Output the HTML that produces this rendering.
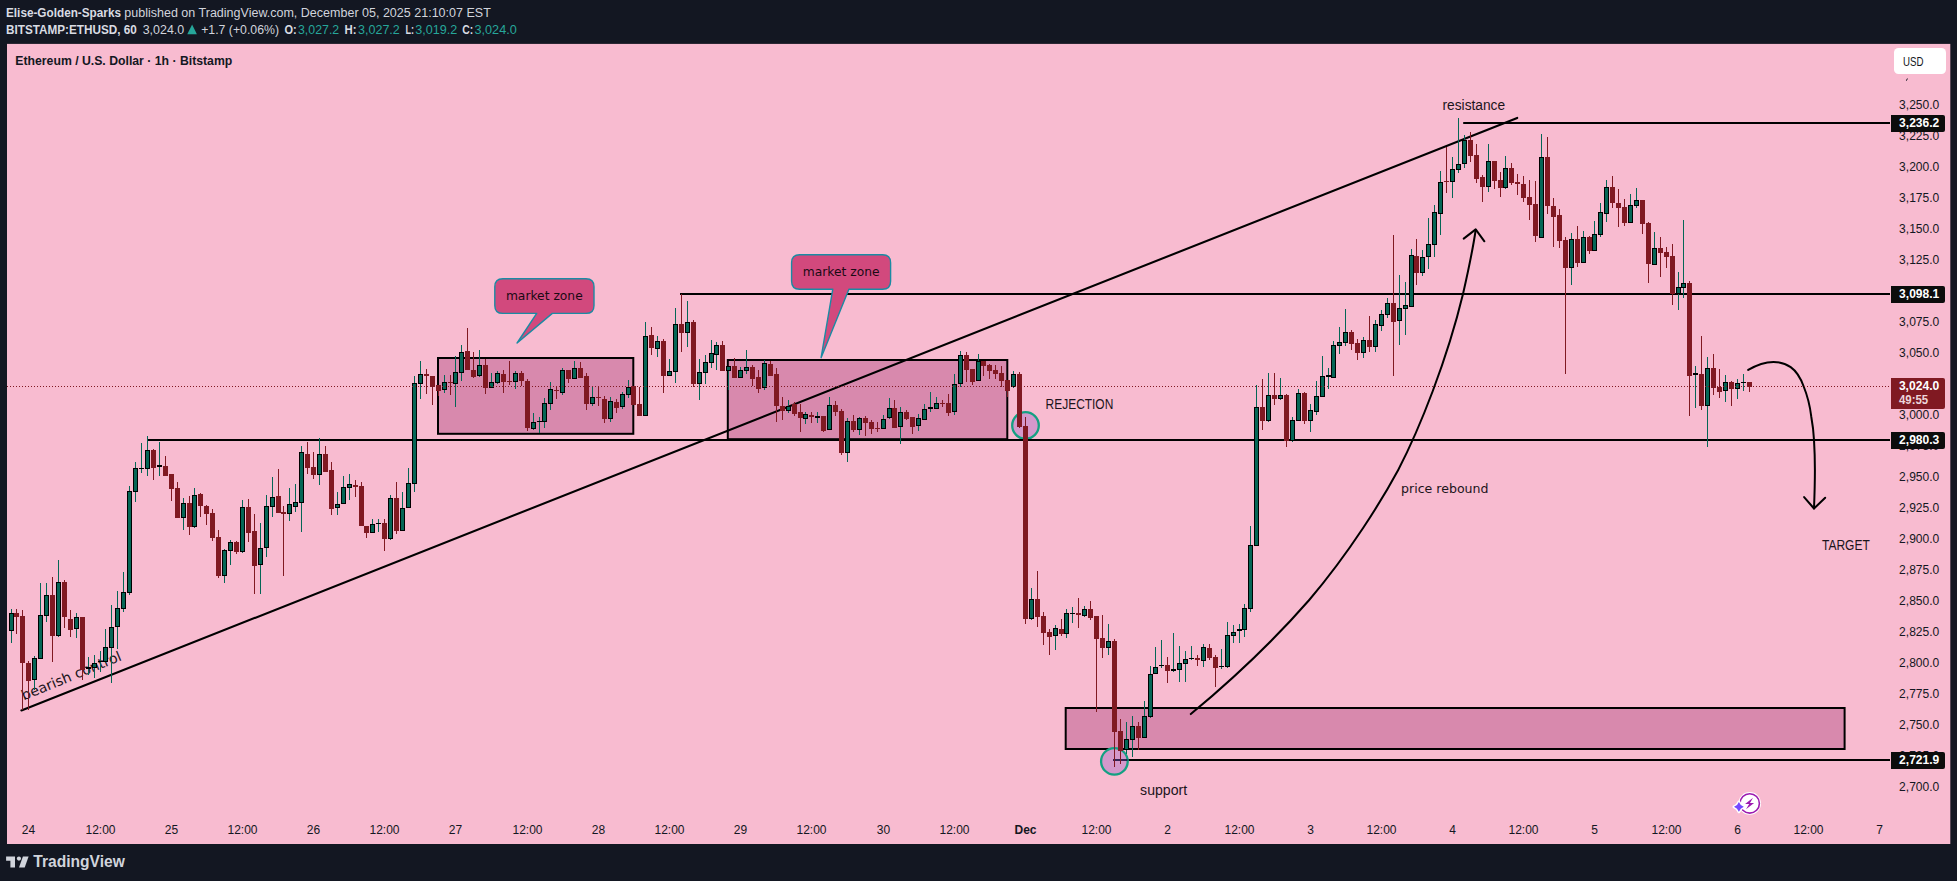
<!DOCTYPE html>
<html lang="en"><head><meta charset="utf-8"><title>ETHUSD chart</title>
<style>html,body{margin:0;padding:0;background:#131722;overflow:hidden}body{width:1957px;height:881px}text{white-space:pre}</style>
</head><body>
<svg width="1957" height="881" viewBox="0 0 1957 881" style="display:block"><rect x="0" y="0" width="1957" height="881" fill="#131722"/>
<rect x="7" y="43.9" width="1943.3" height="800.1" fill="#f8bbd0"/>
<text x="6" y="17.2" font-size="12.5" fill="#d9dce3" font-weight="bold" font-family="'Liberation Sans', sans-serif" text-anchor="start" textLength="115" lengthAdjust="spacingAndGlyphs">Elise-Golden-Sparks</text>
<text x="124.3" y="17.2" font-size="12.5" fill="#d1d4dc" font-weight="normal" font-family="'Liberation Sans', sans-serif" text-anchor="start" textLength="366.5" lengthAdjust="spacingAndGlyphs">published on TradingView.com, December 05, 2025 21:10:07 EST</text>
<text x="6" y="34.2" font-size="12.5" fill="#d9dce3" font-weight="bold" font-family="'Liberation Sans', sans-serif" text-anchor="start" textLength="130.8" lengthAdjust="spacingAndGlyphs">BITSTAMP:ETHUSD, 60</text>
<text x="142.7" y="34.2" font-size="12.5" fill="#d1d4dc" font-weight="normal" font-family="'Liberation Sans', sans-serif" text-anchor="start" textLength="41.5" lengthAdjust="spacingAndGlyphs">3,024.0</text>
<path d="M187.3 34.2 L192.1 24.6 L196.9 34.2 Z" fill="#26a69a"/>
<text x="201.2" y="34.2" font-size="12.5" fill="#d1d4dc" font-weight="normal" font-family="'Liberation Sans', sans-serif" text-anchor="start" textLength="77.8" lengthAdjust="spacingAndGlyphs">+1.7 (+0.06%)</text>
<text x="284.4" y="34.2" font-size="12.5" fill="#d9dce3" font-weight="bold" font-family="'Liberation Sans', sans-serif" text-anchor="start" textLength="12.2" lengthAdjust="spacingAndGlyphs">O:</text>
<text x="298" y="34.2" font-size="12.5" fill="#26a69a" font-weight="normal" font-family="'Liberation Sans', sans-serif" text-anchor="start" textLength="41.2" lengthAdjust="spacingAndGlyphs">3,027.2</text>
<text x="344.5" y="34.2" font-size="12.5" fill="#d9dce3" font-weight="bold" font-family="'Liberation Sans', sans-serif" text-anchor="start" textLength="12.0" lengthAdjust="spacingAndGlyphs">H:</text>
<text x="358" y="34.2" font-size="12.5" fill="#26a69a" font-weight="normal" font-family="'Liberation Sans', sans-serif" text-anchor="start" textLength="41.8" lengthAdjust="spacingAndGlyphs">3,027.2</text>
<text x="405.5" y="34.2" font-size="12.5" fill="#d9dce3" font-weight="bold" font-family="'Liberation Sans', sans-serif" text-anchor="start" textLength="8.6" lengthAdjust="spacingAndGlyphs">L:</text>
<text x="415.2" y="34.2" font-size="12.5" fill="#26a69a" font-weight="normal" font-family="'Liberation Sans', sans-serif" text-anchor="start" textLength="42" lengthAdjust="spacingAndGlyphs">3,019.2</text>
<text x="462.3" y="34.2" font-size="12.5" fill="#d9dce3" font-weight="bold" font-family="'Liberation Sans', sans-serif" text-anchor="start" textLength="11.0" lengthAdjust="spacingAndGlyphs">C:</text>
<text x="474.5" y="34.2" font-size="12.5" fill="#26a69a" font-weight="normal" font-family="'Liberation Sans', sans-serif" text-anchor="start" textLength="42.3" lengthAdjust="spacingAndGlyphs">3,024.0</text>
<text x="15.3" y="64.8" font-size="12" fill="#131722" font-weight="bold" font-family="'Liberation Sans', sans-serif" text-anchor="start" textLength="217" lengthAdjust="spacingAndGlyphs">Ethereum / U.S. Dollar · 1h · Bitstamp</text>
<rect x="438" y="358" width="195.29999999999995" height="75.80000000000001" fill="#d889ad" stroke="#000000" stroke-width="2"/>
<rect x="727.8" y="360" width="279.5" height="79.19999999999999" fill="#d889ad" stroke="#000000" stroke-width="2"/>
<rect x="1065.7" y="708" width="778.8999999999999" height="41" fill="#d889ad" stroke="#000000" stroke-width="2"/>
<circle cx="1025.5" cy="425.5" r="13.3" fill="#d498cb" stroke="#14a082" stroke-width="2.3"/>
<line x1="21.4" y1="710.4" x2="1517.2" y2="117.95" stroke="#000000" stroke-width="2.1" stroke-linecap="round"/>
<line x1="147" y1="440" x2="1890" y2="440" stroke="#000000" stroke-width="2" stroke-linecap="butt"/>
<line x1="680" y1="294" x2="1890" y2="294" stroke="#000000" stroke-width="2" stroke-linecap="butt"/>
<line x1="1463.2" y1="123" x2="1890" y2="123" stroke="#000000" stroke-width="2" stroke-linecap="butt"/>
<line x1="1113" y1="760" x2="1890" y2="760" stroke="#000000" stroke-width="2" stroke-linecap="butt"/>
<path d="M1190.8 714.1 C1250 665 1290 622 1309.2 600 C1350 552 1382 500 1398.2 470 C1420 428 1447 360 1463 294 C1468 272 1473 248 1475.7 230" fill="none" stroke="#000" stroke-width="2" stroke-linecap="round"/>
<path d="M1463.7 238.6 L1475.7 229.4 L1484.4 241.3" fill="none" stroke="#000" stroke-width="2" stroke-linecap="round" stroke-linejoin="round"/>
<path d="M1748.2 369.9 C1758 364 1766 361.9 1773.5 361.9 C1780 361.9 1786 363.8 1790.7 367.1 C1797 371.5 1801 379 1803.7 386.5 C1807.5 396 1810 406 1811.2 416.2 C1812.6 424 1813.6 432 1814 439.9 C1814.6 450 1814.9 460 1814.9 470.1 C1814.9 483 1814.5 496 1814 508.5" fill="none" stroke="#000" stroke-width="2" stroke-linecap="round"/>
<path d="M1804.1 497.1 L1814 508.5 L1825.2 497.7" fill="none" stroke="#000" stroke-width="2" stroke-linecap="round" stroke-linejoin="round"/>
<circle cx="1114.4" cy="761.4" r="13.3" fill="#d498cb" stroke="#14a082" stroke-width="2.3"/>
<line x1="1113" y1="760" x2="1127.5" y2="760" stroke="#1a1040" stroke-width="2" opacity="0.85"/>
<path d="M502.8 278.8 H586.0 Q594.0 278.8 594.0 286.8 V305.4 Q594.0 313.4 586.0 313.4 H552.3 L517.1 343.0 L536.7 313.4 H502.8 Q494.8 313.4 494.8 305.4 V286.8 Q494.8 278.8 502.8 278.8 Z" fill="#d2497d" stroke="#1a8ba3" stroke-width="1.4" stroke-linejoin="round"/>
<text x="505.9" y="299.8" font-size="12.2" fill="#1a0a14" font-weight="normal" font-family="'DejaVu Sans', 'Liberation Sans', sans-serif" text-anchor="start" textLength="76.8" lengthAdjust="spacingAndGlyphs">market zone</text>
<path d="M799.6 254.7 H882.6 Q890.6 254.7 890.6 262.7 V281.2 Q890.6 289.2 882.6 289.2 H848.9 L821.1 357.7 L832.8 289.2 H799.6 Q791.6 289.2 791.6 281.2 V262.7 Q791.6 254.7 799.6 254.7 Z" fill="#d2497d" stroke="#1a8ba3" stroke-width="1.4" stroke-linejoin="round"/>
<text x="802.7" y="275.7" font-size="12.2" fill="#1a0a14" font-weight="normal" font-family="'DejaVu Sans', 'Liberation Sans', sans-serif" text-anchor="start" textLength="76.8" lengthAdjust="spacingAndGlyphs">market zone</text>
<text x="1442.5" y="109.8" font-size="14" fill="#1c141b" font-weight="normal" font-family="'Liberation Sans', sans-serif" text-anchor="start" textLength="62.6" lengthAdjust="spacingAndGlyphs">resistance</text>
<text x="1045.6" y="409.2" font-size="14" fill="#1c141b" font-weight="normal" font-family="'Liberation Sans', sans-serif" text-anchor="start" textLength="67.7" lengthAdjust="spacingAndGlyphs">REJECTION</text>
<text x="1140.1" y="794.8" font-size="14" fill="#1c141b" font-weight="normal" font-family="'Liberation Sans', sans-serif" text-anchor="start" textLength="47" lengthAdjust="spacingAndGlyphs">support</text>
<text x="1822" y="549.9" font-size="14" fill="#1c141b" font-weight="normal" font-family="'Liberation Sans', sans-serif" text-anchor="start" textLength="47.8" lengthAdjust="spacingAndGlyphs">TARGET</text>
<text x="1401.1" y="493.0" font-size="12.6" fill="#1c141b" font-weight="normal" font-family="'DejaVu Sans', 'Liberation Sans', sans-serif" text-anchor="start" textLength="87.4" lengthAdjust="spacingAndGlyphs">price rebound</text>
<g transform="translate(23.8 700.5) rotate(-22.3)">
<text x="0" y="0" font-size="14" fill="#1c141b" font-weight="normal" font-family="'DejaVu Sans', 'Liberation Sans', sans-serif" text-anchor="start" textLength="106.6" lengthAdjust="spacingAndGlyphs">bearish control</text>
</g>
<rect x="11" y="609" width="1" height="34" fill="#056656"/>
<rect x="9" y="613" width="5" height="18" fill="#000"/>
<rect x="10" y="614" width="3" height="16" fill="#056656"/>
<rect x="16" y="609" width="1" height="25" fill="#801922"/>
<rect x="14" y="613" width="5" height="4" fill="#801922"/>
<rect x="22" y="610" width="1" height="100" fill="#801922"/>
<rect x="20" y="616" width="5" height="47" fill="#801922"/>
<rect x="28" y="661" width="1" height="49" fill="#801922"/>
<rect x="26" y="663" width="5" height="18" fill="#801922"/>
<rect x="34" y="656" width="1" height="34" fill="#056656"/>
<rect x="32" y="658" width="5" height="22" fill="#000"/>
<rect x="33" y="659" width="3" height="20" fill="#056656"/>
<rect x="40" y="583" width="1" height="76" fill="#056656"/>
<rect x="38" y="615" width="5" height="44" fill="#000"/>
<rect x="39" y="616" width="3" height="42" fill="#056656"/>
<rect x="46" y="583" width="1" height="39" fill="#056656"/>
<rect x="44" y="595" width="5" height="21" fill="#000"/>
<rect x="45" y="596" width="3" height="19" fill="#056656"/>
<rect x="52" y="577" width="1" height="85" fill="#801922"/>
<rect x="50" y="595" width="5" height="41" fill="#801922"/>
<rect x="58" y="560" width="1" height="77" fill="#056656"/>
<rect x="56" y="582" width="5" height="54" fill="#000"/>
<rect x="57" y="583" width="3" height="52" fill="#056656"/>
<rect x="64" y="580" width="1" height="48" fill="#801922"/>
<rect x="62" y="582" width="5" height="35" fill="#801922"/>
<rect x="70" y="610" width="1" height="27" fill="#801922"/>
<rect x="68" y="619" width="5" height="11" fill="#801922"/>
<rect x="76" y="613" width="1" height="25" fill="#056656"/>
<rect x="74" y="617" width="5" height="12" fill="#000"/>
<rect x="75" y="618" width="3" height="10" fill="#056656"/>
<rect x="82" y="617" width="1" height="63" fill="#801922"/>
<rect x="80" y="617" width="5" height="53" fill="#801922"/>
<rect x="88" y="657" width="1" height="18" fill="#056656"/>
<rect x="86" y="667" width="5" height="2" fill="#000"/>
<rect x="94" y="655" width="1" height="23" fill="#056656"/>
<rect x="92" y="663" width="5" height="5" fill="#000"/>
<rect x="93" y="664" width="3" height="3" fill="#056656"/>
<rect x="100" y="651" width="1" height="21" fill="#056656"/>
<rect x="98" y="661" width="5" height="1" fill="#000"/>
<rect x="105" y="629" width="1" height="34" fill="#056656"/>
<rect x="103" y="647" width="5" height="15" fill="#000"/>
<rect x="104" y="648" width="3" height="13" fill="#056656"/>
<rect x="111" y="605" width="1" height="78" fill="#056656"/>
<rect x="109" y="627" width="5" height="21" fill="#000"/>
<rect x="110" y="628" width="3" height="19" fill="#056656"/>
<rect x="117" y="591" width="1" height="58" fill="#056656"/>
<rect x="115" y="608" width="5" height="19" fill="#000"/>
<rect x="116" y="609" width="3" height="17" fill="#056656"/>
<rect x="123" y="572" width="1" height="40" fill="#056656"/>
<rect x="121" y="592" width="5" height="17" fill="#000"/>
<rect x="122" y="593" width="3" height="15" fill="#056656"/>
<rect x="129" y="486" width="1" height="109" fill="#056656"/>
<rect x="127" y="491" width="5" height="102" fill="#000"/>
<rect x="128" y="492" width="3" height="100" fill="#056656"/>
<rect x="135" y="462" width="1" height="40" fill="#056656"/>
<rect x="133" y="468" width="5" height="24" fill="#000"/>
<rect x="134" y="469" width="3" height="22" fill="#056656"/>
<rect x="141" y="443" width="1" height="30" fill="#056656"/>
<rect x="139" y="468" width="5" height="1" fill="#000"/>
<rect x="147" y="436" width="1" height="40" fill="#056656"/>
<rect x="145" y="450" width="5" height="19" fill="#000"/>
<rect x="146" y="451" width="3" height="17" fill="#056656"/>
<rect x="153" y="449" width="1" height="31" fill="#801922"/>
<rect x="151" y="450" width="5" height="18" fill="#801922"/>
<rect x="159" y="442" width="1" height="34" fill="#056656"/>
<rect x="157" y="465" width="5" height="2" fill="#000"/>
<rect x="165" y="456" width="1" height="20" fill="#801922"/>
<rect x="163" y="466" width="5" height="10" fill="#801922"/>
<rect x="171" y="474" width="1" height="27" fill="#801922"/>
<rect x="169" y="474" width="5" height="15" fill="#801922"/>
<rect x="177" y="482" width="1" height="36" fill="#801922"/>
<rect x="175" y="488" width="5" height="30" fill="#801922"/>
<rect x="183" y="498" width="1" height="32" fill="#056656"/>
<rect x="181" y="503" width="5" height="15" fill="#000"/>
<rect x="182" y="504" width="3" height="13" fill="#056656"/>
<rect x="189" y="496" width="1" height="39" fill="#801922"/>
<rect x="187" y="503" width="5" height="24" fill="#801922"/>
<rect x="194" y="488" width="1" height="40" fill="#056656"/>
<rect x="192" y="495" width="5" height="32" fill="#000"/>
<rect x="193" y="496" width="3" height="30" fill="#056656"/>
<rect x="200" y="493" width="1" height="24" fill="#801922"/>
<rect x="198" y="494" width="5" height="12" fill="#801922"/>
<rect x="206" y="505" width="1" height="20" fill="#801922"/>
<rect x="204" y="506" width="5" height="8" fill="#801922"/>
<rect x="212" y="509" width="1" height="32" fill="#801922"/>
<rect x="210" y="513" width="5" height="25" fill="#801922"/>
<rect x="218" y="530" width="1" height="48" fill="#801922"/>
<rect x="216" y="537" width="5" height="39" fill="#801922"/>
<rect x="224" y="549" width="1" height="34" fill="#056656"/>
<rect x="222" y="550" width="5" height="26" fill="#000"/>
<rect x="223" y="551" width="3" height="24" fill="#056656"/>
<rect x="230" y="540" width="1" height="25" fill="#056656"/>
<rect x="228" y="542" width="5" height="9" fill="#000"/>
<rect x="229" y="543" width="3" height="7" fill="#056656"/>
<rect x="236" y="541" width="1" height="13" fill="#801922"/>
<rect x="234" y="542" width="5" height="10" fill="#801922"/>
<rect x="242" y="500" width="1" height="53" fill="#056656"/>
<rect x="240" y="507" width="5" height="45" fill="#000"/>
<rect x="241" y="508" width="3" height="43" fill="#056656"/>
<rect x="248" y="499" width="1" height="43" fill="#801922"/>
<rect x="246" y="507" width="5" height="26" fill="#801922"/>
<rect x="254" y="514" width="1" height="80" fill="#801922"/>
<rect x="252" y="531" width="5" height="35" fill="#801922"/>
<rect x="260" y="523" width="1" height="71" fill="#056656"/>
<rect x="258" y="548" width="5" height="17" fill="#000"/>
<rect x="259" y="549" width="3" height="15" fill="#056656"/>
<rect x="266" y="495" width="1" height="62" fill="#056656"/>
<rect x="264" y="506" width="5" height="42" fill="#000"/>
<rect x="265" y="507" width="3" height="40" fill="#056656"/>
<rect x="272" y="477" width="1" height="40" fill="#056656"/>
<rect x="270" y="497" width="5" height="10" fill="#000"/>
<rect x="271" y="498" width="3" height="8" fill="#056656"/>
<rect x="278" y="469" width="1" height="44" fill="#801922"/>
<rect x="276" y="496" width="5" height="17" fill="#801922"/>
<rect x="283" y="506" width="1" height="70" fill="#801922"/>
<rect x="281" y="512" width="5" height="2" fill="#801922"/>
<rect x="289" y="488" width="1" height="33" fill="#056656"/>
<rect x="287" y="504" width="5" height="10" fill="#000"/>
<rect x="288" y="505" width="3" height="8" fill="#056656"/>
<rect x="295" y="484" width="1" height="28" fill="#056656"/>
<rect x="293" y="502" width="5" height="5" fill="#000"/>
<rect x="294" y="503" width="3" height="3" fill="#056656"/>
<rect x="301" y="446" width="1" height="86" fill="#056656"/>
<rect x="299" y="452" width="5" height="51" fill="#000"/>
<rect x="300" y="453" width="3" height="49" fill="#056656"/>
<rect x="307" y="442" width="1" height="32" fill="#801922"/>
<rect x="305" y="454" width="5" height="14" fill="#801922"/>
<rect x="313" y="452" width="1" height="27" fill="#801922"/>
<rect x="311" y="467" width="5" height="8" fill="#801922"/>
<rect x="319" y="438" width="1" height="47" fill="#056656"/>
<rect x="317" y="454" width="5" height="21" fill="#000"/>
<rect x="318" y="455" width="3" height="19" fill="#056656"/>
<rect x="325" y="446" width="1" height="26" fill="#801922"/>
<rect x="323" y="454" width="5" height="18" fill="#801922"/>
<rect x="331" y="462" width="1" height="53" fill="#801922"/>
<rect x="329" y="470" width="5" height="39" fill="#801922"/>
<rect x="337" y="492" width="1" height="23" fill="#056656"/>
<rect x="335" y="504" width="5" height="4" fill="#000"/>
<rect x="336" y="505" width="3" height="2" fill="#056656"/>
<rect x="343" y="476" width="1" height="28" fill="#056656"/>
<rect x="341" y="487" width="5" height="17" fill="#000"/>
<rect x="342" y="488" width="3" height="15" fill="#056656"/>
<rect x="349" y="474" width="1" height="26" fill="#056656"/>
<rect x="347" y="484" width="5" height="4" fill="#000"/>
<rect x="348" y="485" width="3" height="2" fill="#056656"/>
<rect x="355" y="480" width="1" height="17" fill="#801922"/>
<rect x="353" y="485" width="5" height="2" fill="#801922"/>
<rect x="361" y="482" width="1" height="44" fill="#801922"/>
<rect x="359" y="486" width="5" height="40" fill="#801922"/>
<rect x="366" y="526" width="1" height="12" fill="#801922"/>
<rect x="364" y="526" width="5" height="7" fill="#801922"/>
<rect x="372" y="519" width="1" height="14" fill="#056656"/>
<rect x="370" y="524" width="5" height="9" fill="#000"/>
<rect x="371" y="525" width="3" height="7" fill="#056656"/>
<rect x="378" y="519" width="1" height="13" fill="#056656"/>
<rect x="376" y="523" width="5" height="1" fill="#000"/>
<rect x="384" y="519" width="1" height="32" fill="#801922"/>
<rect x="382" y="523" width="5" height="16" fill="#801922"/>
<rect x="390" y="495" width="1" height="45" fill="#056656"/>
<rect x="388" y="498" width="5" height="41" fill="#000"/>
<rect x="389" y="499" width="3" height="39" fill="#056656"/>
<rect x="396" y="482" width="1" height="52" fill="#801922"/>
<rect x="394" y="498" width="5" height="33" fill="#801922"/>
<rect x="402" y="492" width="1" height="39" fill="#056656"/>
<rect x="400" y="508" width="5" height="23" fill="#000"/>
<rect x="401" y="509" width="3" height="21" fill="#056656"/>
<rect x="408" y="468" width="1" height="40" fill="#056656"/>
<rect x="406" y="483" width="5" height="25" fill="#000"/>
<rect x="407" y="484" width="3" height="23" fill="#056656"/>
<rect x="414" y="376" width="1" height="116" fill="#056656"/>
<rect x="412" y="383" width="5" height="101" fill="#000"/>
<rect x="413" y="384" width="3" height="99" fill="#056656"/>
<rect x="420" y="361" width="1" height="38" fill="#056656"/>
<rect x="418" y="374" width="5" height="10" fill="#000"/>
<rect x="419" y="375" width="3" height="8" fill="#056656"/>
<rect x="426" y="369" width="1" height="25" fill="#801922"/>
<rect x="424" y="374" width="5" height="2" fill="#801922"/>
<rect x="432" y="376" width="1" height="29" fill="#801922"/>
<rect x="430" y="376" width="5" height="11" fill="#801922"/>
<rect x="438" y="385" width="1" height="11" fill="#801922"/>
<rect x="436" y="385" width="5" height="6" fill="#801922"/>
<rect x="444" y="375" width="1" height="18" fill="#056656"/>
<rect x="442" y="382" width="5" height="8" fill="#000"/>
<rect x="443" y="383" width="3" height="6" fill="#056656"/>
<rect x="450" y="375" width="1" height="20" fill="#801922"/>
<rect x="448" y="382" width="5" height="1" fill="#801922"/>
<rect x="455" y="356" width="1" height="51" fill="#056656"/>
<rect x="453" y="372" width="5" height="12" fill="#000"/>
<rect x="454" y="373" width="3" height="10" fill="#056656"/>
<rect x="461" y="345" width="1" height="36" fill="#056656"/>
<rect x="459" y="352" width="5" height="21" fill="#000"/>
<rect x="460" y="353" width="3" height="19" fill="#056656"/>
<rect x="467" y="328" width="1" height="42" fill="#801922"/>
<rect x="465" y="351" width="5" height="19" fill="#801922"/>
<rect x="473" y="352" width="1" height="26" fill="#801922"/>
<rect x="471" y="370" width="5" height="7" fill="#801922"/>
<rect x="479" y="350" width="1" height="27" fill="#056656"/>
<rect x="477" y="365" width="5" height="11" fill="#000"/>
<rect x="478" y="366" width="3" height="9" fill="#056656"/>
<rect x="485" y="359" width="1" height="35" fill="#801922"/>
<rect x="483" y="365" width="5" height="23" fill="#801922"/>
<rect x="491" y="373" width="1" height="15" fill="#056656"/>
<rect x="489" y="382" width="5" height="6" fill="#000"/>
<rect x="490" y="383" width="3" height="4" fill="#056656"/>
<rect x="497" y="371" width="1" height="13" fill="#056656"/>
<rect x="495" y="373" width="5" height="10" fill="#000"/>
<rect x="496" y="374" width="3" height="8" fill="#056656"/>
<rect x="503" y="370" width="1" height="23" fill="#801922"/>
<rect x="501" y="374" width="5" height="8" fill="#801922"/>
<rect x="509" y="361" width="1" height="24" fill="#801922"/>
<rect x="507" y="381" width="5" height="1" fill="#801922"/>
<rect x="515" y="371" width="1" height="18" fill="#056656"/>
<rect x="513" y="373" width="5" height="9" fill="#000"/>
<rect x="514" y="374" width="3" height="7" fill="#056656"/>
<rect x="521" y="371" width="1" height="15" fill="#801922"/>
<rect x="519" y="373" width="5" height="8" fill="#801922"/>
<rect x="527" y="379" width="1" height="52" fill="#801922"/>
<rect x="525" y="381" width="5" height="47" fill="#801922"/>
<rect x="533" y="413" width="1" height="17" fill="#056656"/>
<rect x="531" y="422" width="5" height="7" fill="#000"/>
<rect x="532" y="423" width="3" height="5" fill="#056656"/>
<rect x="539" y="417" width="1" height="16" fill="#056656"/>
<rect x="537" y="421" width="5" height="1" fill="#000"/>
<rect x="544" y="398" width="1" height="30" fill="#056656"/>
<rect x="542" y="403" width="5" height="19" fill="#000"/>
<rect x="543" y="404" width="3" height="17" fill="#056656"/>
<rect x="550" y="382" width="1" height="28" fill="#056656"/>
<rect x="548" y="389" width="5" height="15" fill="#000"/>
<rect x="549" y="390" width="3" height="13" fill="#056656"/>
<rect x="556" y="387" width="1" height="12" fill="#801922"/>
<rect x="554" y="390" width="5" height="1" fill="#801922"/>
<rect x="562" y="368" width="1" height="27" fill="#056656"/>
<rect x="560" y="370" width="5" height="23" fill="#000"/>
<rect x="561" y="371" width="3" height="21" fill="#056656"/>
<rect x="568" y="370" width="1" height="13" fill="#801922"/>
<rect x="566" y="370" width="5" height="9" fill="#801922"/>
<rect x="574" y="361" width="1" height="18" fill="#056656"/>
<rect x="572" y="368" width="5" height="11" fill="#000"/>
<rect x="573" y="369" width="3" height="9" fill="#056656"/>
<rect x="580" y="362" width="1" height="16" fill="#801922"/>
<rect x="578" y="368" width="5" height="10" fill="#801922"/>
<rect x="586" y="373" width="1" height="37" fill="#801922"/>
<rect x="584" y="376" width="5" height="28" fill="#801922"/>
<rect x="592" y="387" width="1" height="19" fill="#056656"/>
<rect x="590" y="397" width="5" height="7" fill="#000"/>
<rect x="591" y="398" width="3" height="5" fill="#056656"/>
<rect x="598" y="387" width="1" height="19" fill="#801922"/>
<rect x="596" y="397" width="5" height="1" fill="#801922"/>
<rect x="604" y="396" width="1" height="27" fill="#801922"/>
<rect x="602" y="399" width="5" height="20" fill="#801922"/>
<rect x="610" y="397" width="1" height="25" fill="#056656"/>
<rect x="608" y="401" width="5" height="18" fill="#000"/>
<rect x="609" y="402" width="3" height="16" fill="#056656"/>
<rect x="616" y="399" width="1" height="14" fill="#801922"/>
<rect x="614" y="402" width="5" height="6" fill="#801922"/>
<rect x="622" y="392" width="1" height="17" fill="#056656"/>
<rect x="620" y="394" width="5" height="13" fill="#000"/>
<rect x="621" y="395" width="3" height="11" fill="#056656"/>
<rect x="628" y="380" width="1" height="18" fill="#056656"/>
<rect x="626" y="387" width="5" height="8" fill="#000"/>
<rect x="627" y="388" width="3" height="6" fill="#056656"/>
<rect x="633" y="386" width="1" height="19" fill="#801922"/>
<rect x="631" y="386" width="5" height="19" fill="#801922"/>
<rect x="639" y="387" width="1" height="28" fill="#801922"/>
<rect x="637" y="404" width="5" height="12" fill="#801922"/>
<rect x="645" y="322" width="1" height="93" fill="#056656"/>
<rect x="643" y="336" width="5" height="80" fill="#000"/>
<rect x="644" y="337" width="3" height="78" fill="#056656"/>
<rect x="651" y="327" width="1" height="28" fill="#801922"/>
<rect x="649" y="335" width="5" height="13" fill="#801922"/>
<rect x="657" y="336" width="1" height="21" fill="#056656"/>
<rect x="655" y="341" width="5" height="8" fill="#000"/>
<rect x="656" y="342" width="3" height="6" fill="#056656"/>
<rect x="663" y="339" width="1" height="54" fill="#801922"/>
<rect x="661" y="341" width="5" height="35" fill="#801922"/>
<rect x="669" y="359" width="1" height="17" fill="#056656"/>
<rect x="667" y="371" width="5" height="5" fill="#000"/>
<rect x="668" y="372" width="3" height="3" fill="#056656"/>
<rect x="675" y="308" width="1" height="75" fill="#056656"/>
<rect x="673" y="324" width="5" height="48" fill="#000"/>
<rect x="674" y="325" width="3" height="46" fill="#056656"/>
<rect x="681" y="294" width="1" height="58" fill="#801922"/>
<rect x="679" y="324" width="5" height="9" fill="#801922"/>
<rect x="687" y="301" width="1" height="46" fill="#056656"/>
<rect x="685" y="322" width="5" height="11" fill="#000"/>
<rect x="686" y="323" width="3" height="9" fill="#056656"/>
<rect x="693" y="320" width="1" height="67" fill="#801922"/>
<rect x="691" y="322" width="5" height="62" fill="#801922"/>
<rect x="699" y="359" width="1" height="41" fill="#056656"/>
<rect x="697" y="372" width="5" height="12" fill="#000"/>
<rect x="698" y="373" width="3" height="10" fill="#056656"/>
<rect x="705" y="355" width="1" height="29" fill="#056656"/>
<rect x="703" y="362" width="5" height="11" fill="#000"/>
<rect x="704" y="363" width="3" height="9" fill="#056656"/>
<rect x="711" y="340" width="1" height="28" fill="#056656"/>
<rect x="709" y="353" width="5" height="10" fill="#000"/>
<rect x="710" y="354" width="3" height="8" fill="#056656"/>
<rect x="716" y="342" width="1" height="28" fill="#056656"/>
<rect x="714" y="345" width="5" height="10" fill="#000"/>
<rect x="715" y="346" width="3" height="8" fill="#056656"/>
<rect x="722" y="341" width="1" height="30" fill="#801922"/>
<rect x="720" y="345" width="5" height="26" fill="#801922"/>
<rect x="728" y="366" width="1" height="24" fill="#056656"/>
<rect x="726" y="366" width="5" height="5" fill="#000"/>
<rect x="727" y="367" width="3" height="3" fill="#056656"/>
<rect x="734" y="358" width="1" height="19" fill="#801922"/>
<rect x="732" y="366" width="5" height="12" fill="#801922"/>
<rect x="740" y="367" width="1" height="11" fill="#056656"/>
<rect x="738" y="370" width="5" height="8" fill="#000"/>
<rect x="739" y="371" width="3" height="6" fill="#056656"/>
<rect x="746" y="350" width="1" height="24" fill="#056656"/>
<rect x="744" y="367" width="5" height="4" fill="#000"/>
<rect x="745" y="368" width="3" height="2" fill="#056656"/>
<rect x="752" y="365" width="1" height="21" fill="#801922"/>
<rect x="750" y="367" width="5" height="12" fill="#801922"/>
<rect x="758" y="370" width="1" height="23" fill="#801922"/>
<rect x="756" y="377" width="5" height="12" fill="#801922"/>
<rect x="764" y="360" width="1" height="30" fill="#056656"/>
<rect x="762" y="363" width="5" height="25" fill="#000"/>
<rect x="763" y="364" width="3" height="23" fill="#056656"/>
<rect x="770" y="361" width="1" height="15" fill="#801922"/>
<rect x="768" y="364" width="5" height="12" fill="#801922"/>
<rect x="776" y="368" width="1" height="54" fill="#801922"/>
<rect x="774" y="374" width="5" height="32" fill="#801922"/>
<rect x="782" y="397" width="1" height="23" fill="#801922"/>
<rect x="780" y="406" width="5" height="5" fill="#801922"/>
<rect x="788" y="400" width="1" height="13" fill="#056656"/>
<rect x="786" y="406" width="5" height="5" fill="#000"/>
<rect x="787" y="407" width="3" height="3" fill="#056656"/>
<rect x="794" y="402" width="1" height="14" fill="#801922"/>
<rect x="792" y="404" width="5" height="10" fill="#801922"/>
<rect x="800" y="404" width="1" height="28" fill="#801922"/>
<rect x="798" y="412" width="5" height="6" fill="#801922"/>
<rect x="805" y="412" width="1" height="12" fill="#056656"/>
<rect x="803" y="414" width="5" height="5" fill="#000"/>
<rect x="804" y="415" width="3" height="3" fill="#056656"/>
<rect x="811" y="412" width="1" height="11" fill="#801922"/>
<rect x="809" y="415" width="5" height="2" fill="#801922"/>
<rect x="817" y="412" width="1" height="11" fill="#056656"/>
<rect x="815" y="416" width="5" height="2" fill="#000"/>
<rect x="823" y="416" width="1" height="16" fill="#801922"/>
<rect x="821" y="416" width="5" height="15" fill="#801922"/>
<rect x="829" y="397" width="1" height="33" fill="#056656"/>
<rect x="827" y="405" width="5" height="25" fill="#000"/>
<rect x="828" y="406" width="3" height="23" fill="#056656"/>
<rect x="835" y="401" width="1" height="15" fill="#801922"/>
<rect x="833" y="405" width="5" height="7" fill="#801922"/>
<rect x="841" y="409" width="1" height="46" fill="#801922"/>
<rect x="839" y="411" width="5" height="42" fill="#801922"/>
<rect x="847" y="418" width="1" height="44" fill="#056656"/>
<rect x="845" y="421" width="5" height="32" fill="#000"/>
<rect x="846" y="422" width="3" height="30" fill="#056656"/>
<rect x="853" y="415" width="1" height="17" fill="#801922"/>
<rect x="851" y="421" width="5" height="9" fill="#801922"/>
<rect x="859" y="417" width="1" height="18" fill="#056656"/>
<rect x="857" y="418" width="5" height="12" fill="#000"/>
<rect x="858" y="419" width="3" height="10" fill="#056656"/>
<rect x="865" y="416" width="1" height="20" fill="#801922"/>
<rect x="863" y="418" width="5" height="5" fill="#801922"/>
<rect x="871" y="420" width="1" height="14" fill="#801922"/>
<rect x="869" y="422" width="5" height="7" fill="#801922"/>
<rect x="877" y="422" width="1" height="10" fill="#801922"/>
<rect x="875" y="428" width="5" height="1" fill="#801922"/>
<rect x="883" y="415" width="1" height="14" fill="#056656"/>
<rect x="881" y="419" width="5" height="10" fill="#000"/>
<rect x="882" y="420" width="3" height="8" fill="#056656"/>
<rect x="889" y="398" width="1" height="21" fill="#056656"/>
<rect x="887" y="408" width="5" height="10" fill="#000"/>
<rect x="888" y="409" width="3" height="8" fill="#056656"/>
<rect x="894" y="400" width="1" height="27" fill="#801922"/>
<rect x="892" y="408" width="5" height="20" fill="#801922"/>
<rect x="900" y="407" width="1" height="37" fill="#056656"/>
<rect x="898" y="412" width="5" height="15" fill="#000"/>
<rect x="899" y="413" width="3" height="13" fill="#056656"/>
<rect x="906" y="410" width="1" height="10" fill="#801922"/>
<rect x="904" y="412" width="5" height="7" fill="#801922"/>
<rect x="912" y="417" width="1" height="17" fill="#801922"/>
<rect x="910" y="417" width="5" height="10" fill="#801922"/>
<rect x="918" y="414" width="1" height="17" fill="#056656"/>
<rect x="916" y="418" width="5" height="8" fill="#000"/>
<rect x="917" y="419" width="3" height="6" fill="#056656"/>
<rect x="924" y="404" width="1" height="16" fill="#056656"/>
<rect x="922" y="409" width="5" height="11" fill="#000"/>
<rect x="923" y="410" width="3" height="9" fill="#056656"/>
<rect x="930" y="392" width="1" height="20" fill="#056656"/>
<rect x="928" y="407" width="5" height="2" fill="#000"/>
<rect x="936" y="397" width="1" height="12" fill="#056656"/>
<rect x="934" y="403" width="5" height="6" fill="#000"/>
<rect x="935" y="404" width="3" height="4" fill="#056656"/>
<rect x="942" y="400" width="1" height="7" fill="#801922"/>
<rect x="940" y="403" width="5" height="1" fill="#801922"/>
<rect x="948" y="394" width="1" height="22" fill="#801922"/>
<rect x="946" y="403" width="5" height="10" fill="#801922"/>
<rect x="954" y="374" width="1" height="41" fill="#056656"/>
<rect x="952" y="384" width="5" height="28" fill="#000"/>
<rect x="953" y="385" width="3" height="26" fill="#056656"/>
<rect x="960" y="351" width="1" height="36" fill="#056656"/>
<rect x="958" y="355" width="5" height="29" fill="#000"/>
<rect x="959" y="356" width="3" height="27" fill="#056656"/>
<rect x="966" y="352" width="1" height="30" fill="#801922"/>
<rect x="964" y="355" width="5" height="15" fill="#801922"/>
<rect x="972" y="369" width="1" height="16" fill="#801922"/>
<rect x="970" y="369" width="5" height="13" fill="#801922"/>
<rect x="978" y="354" width="1" height="27" fill="#056656"/>
<rect x="976" y="361" width="5" height="20" fill="#000"/>
<rect x="977" y="362" width="3" height="18" fill="#056656"/>
<rect x="983" y="361" width="1" height="15" fill="#801922"/>
<rect x="981" y="361" width="5" height="5" fill="#801922"/>
<rect x="989" y="364" width="1" height="15" fill="#801922"/>
<rect x="987" y="365" width="5" height="6" fill="#801922"/>
<rect x="995" y="365" width="1" height="14" fill="#801922"/>
<rect x="993" y="370" width="5" height="4" fill="#801922"/>
<rect x="1001" y="366" width="1" height="21" fill="#801922"/>
<rect x="999" y="373" width="5" height="8" fill="#801922"/>
<rect x="1007" y="380" width="1" height="17" fill="#801922"/>
<rect x="1005" y="380" width="5" height="11" fill="#801922"/>
<rect x="1013" y="371" width="1" height="17" fill="#056656"/>
<rect x="1011" y="374" width="5" height="13" fill="#000"/>
<rect x="1012" y="375" width="3" height="11" fill="#056656"/>
<rect x="1019" y="372" width="1" height="56" fill="#801922"/>
<rect x="1017" y="374" width="5" height="53" fill="#801922"/>
<rect x="1025" y="417" width="1" height="207" fill="#801922"/>
<rect x="1023" y="426" width="5" height="193" fill="#801922"/>
<rect x="1031" y="588" width="1" height="32" fill="#056656"/>
<rect x="1029" y="599" width="5" height="20" fill="#000"/>
<rect x="1030" y="600" width="3" height="18" fill="#056656"/>
<rect x="1037" y="571" width="1" height="56" fill="#801922"/>
<rect x="1035" y="599" width="5" height="18" fill="#801922"/>
<rect x="1043" y="612" width="1" height="33" fill="#801922"/>
<rect x="1041" y="616" width="5" height="17" fill="#801922"/>
<rect x="1049" y="629" width="1" height="26" fill="#801922"/>
<rect x="1047" y="632" width="5" height="5" fill="#801922"/>
<rect x="1055" y="625" width="1" height="25" fill="#056656"/>
<rect x="1053" y="628" width="5" height="8" fill="#000"/>
<rect x="1054" y="629" width="3" height="6" fill="#056656"/>
<rect x="1061" y="619" width="1" height="17" fill="#801922"/>
<rect x="1059" y="629" width="5" height="5" fill="#801922"/>
<rect x="1066" y="609" width="1" height="29" fill="#056656"/>
<rect x="1064" y="613" width="5" height="21" fill="#000"/>
<rect x="1065" y="614" width="3" height="19" fill="#056656"/>
<rect x="1072" y="607" width="1" height="16" fill="#056656"/>
<rect x="1070" y="613" width="5" height="1" fill="#000"/>
<rect x="1078" y="598" width="1" height="30" fill="#801922"/>
<rect x="1076" y="613" width="5" height="2" fill="#801922"/>
<rect x="1084" y="606" width="1" height="11" fill="#056656"/>
<rect x="1082" y="609" width="5" height="7" fill="#000"/>
<rect x="1083" y="610" width="3" height="5" fill="#056656"/>
<rect x="1090" y="601" width="1" height="19" fill="#801922"/>
<rect x="1088" y="609" width="5" height="9" fill="#801922"/>
<rect x="1096" y="616" width="1" height="96" fill="#801922"/>
<rect x="1094" y="616" width="5" height="23" fill="#801922"/>
<rect x="1102" y="615" width="1" height="43" fill="#801922"/>
<rect x="1100" y="638" width="5" height="10" fill="#801922"/>
<rect x="1108" y="624" width="1" height="31" fill="#056656"/>
<rect x="1106" y="641" width="5" height="7" fill="#000"/>
<rect x="1107" y="642" width="3" height="5" fill="#056656"/>
<rect x="1114" y="639" width="1" height="128" fill="#801922"/>
<rect x="1112" y="641" width="5" height="91" fill="#801922"/>
<rect x="1120" y="719" width="1" height="45" fill="#801922"/>
<rect x="1118" y="731" width="5" height="20" fill="#801922"/>
<rect x="1126" y="722" width="1" height="32" fill="#056656"/>
<rect x="1124" y="739" width="5" height="11" fill="#000"/>
<rect x="1125" y="740" width="3" height="9" fill="#056656"/>
<rect x="1132" y="716" width="1" height="41" fill="#056656"/>
<rect x="1130" y="726" width="5" height="14" fill="#000"/>
<rect x="1131" y="727" width="3" height="12" fill="#056656"/>
<rect x="1138" y="722" width="1" height="28" fill="#801922"/>
<rect x="1136" y="726" width="5" height="12" fill="#801922"/>
<rect x="1144" y="701" width="1" height="37" fill="#056656"/>
<rect x="1142" y="716" width="5" height="22" fill="#000"/>
<rect x="1143" y="717" width="3" height="20" fill="#056656"/>
<rect x="1150" y="666" width="1" height="52" fill="#056656"/>
<rect x="1148" y="674" width="5" height="43" fill="#000"/>
<rect x="1149" y="675" width="3" height="41" fill="#056656"/>
<rect x="1155" y="647" width="1" height="27" fill="#056656"/>
<rect x="1153" y="667" width="5" height="7" fill="#000"/>
<rect x="1154" y="668" width="3" height="5" fill="#056656"/>
<rect x="1161" y="640" width="1" height="28" fill="#056656"/>
<rect x="1159" y="665" width="5" height="1" fill="#000"/>
<rect x="1167" y="657" width="1" height="26" fill="#801922"/>
<rect x="1165" y="665" width="5" height="6" fill="#801922"/>
<rect x="1173" y="633" width="1" height="39" fill="#056656"/>
<rect x="1171" y="669" width="5" height="2" fill="#000"/>
<rect x="1179" y="646" width="1" height="36" fill="#056656"/>
<rect x="1177" y="663" width="5" height="7" fill="#000"/>
<rect x="1178" y="664" width="3" height="5" fill="#056656"/>
<rect x="1185" y="651" width="1" height="31" fill="#056656"/>
<rect x="1183" y="659" width="5" height="5" fill="#000"/>
<rect x="1184" y="660" width="3" height="3" fill="#056656"/>
<rect x="1191" y="646" width="1" height="14" fill="#056656"/>
<rect x="1189" y="658" width="5" height="1" fill="#000"/>
<rect x="1197" y="655" width="1" height="11" fill="#801922"/>
<rect x="1195" y="658" width="5" height="2" fill="#801922"/>
<rect x="1203" y="644" width="1" height="23" fill="#056656"/>
<rect x="1201" y="647" width="5" height="14" fill="#000"/>
<rect x="1202" y="648" width="3" height="12" fill="#056656"/>
<rect x="1209" y="644" width="1" height="16" fill="#801922"/>
<rect x="1207" y="648" width="5" height="10" fill="#801922"/>
<rect x="1215" y="655" width="1" height="32" fill="#801922"/>
<rect x="1213" y="657" width="5" height="11" fill="#801922"/>
<rect x="1221" y="649" width="1" height="20" fill="#056656"/>
<rect x="1219" y="666" width="5" height="1" fill="#000"/>
<rect x="1227" y="622" width="1" height="46" fill="#056656"/>
<rect x="1225" y="635" width="5" height="32" fill="#000"/>
<rect x="1226" y="636" width="3" height="30" fill="#056656"/>
<rect x="1233" y="625" width="1" height="18" fill="#056656"/>
<rect x="1231" y="632" width="5" height="4" fill="#000"/>
<rect x="1232" y="633" width="3" height="2" fill="#056656"/>
<rect x="1239" y="624" width="1" height="19" fill="#056656"/>
<rect x="1237" y="629" width="5" height="2" fill="#000"/>
<rect x="1244" y="604" width="1" height="33" fill="#056656"/>
<rect x="1242" y="608" width="5" height="22" fill="#000"/>
<rect x="1243" y="609" width="3" height="20" fill="#056656"/>
<rect x="1250" y="526" width="1" height="86" fill="#056656"/>
<rect x="1248" y="545" width="5" height="64" fill="#000"/>
<rect x="1249" y="546" width="3" height="62" fill="#056656"/>
<rect x="1256" y="385" width="1" height="161" fill="#056656"/>
<rect x="1254" y="407" width="5" height="139" fill="#000"/>
<rect x="1255" y="408" width="3" height="137" fill="#056656"/>
<rect x="1262" y="379" width="1" height="51" fill="#801922"/>
<rect x="1260" y="407" width="5" height="14" fill="#801922"/>
<rect x="1268" y="373" width="1" height="49" fill="#056656"/>
<rect x="1266" y="395" width="5" height="26" fill="#000"/>
<rect x="1267" y="396" width="3" height="24" fill="#056656"/>
<rect x="1274" y="373" width="1" height="32" fill="#801922"/>
<rect x="1272" y="395" width="5" height="4" fill="#801922"/>
<rect x="1280" y="378" width="1" height="22" fill="#056656"/>
<rect x="1278" y="395" width="5" height="4" fill="#000"/>
<rect x="1279" y="396" width="3" height="2" fill="#056656"/>
<rect x="1286" y="394" width="1" height="53" fill="#801922"/>
<rect x="1284" y="395" width="5" height="46" fill="#801922"/>
<rect x="1292" y="417" width="1" height="25" fill="#056656"/>
<rect x="1290" y="420" width="5" height="21" fill="#000"/>
<rect x="1291" y="421" width="3" height="19" fill="#056656"/>
<rect x="1298" y="389" width="1" height="32" fill="#056656"/>
<rect x="1296" y="393" width="5" height="28" fill="#000"/>
<rect x="1297" y="394" width="3" height="26" fill="#056656"/>
<rect x="1304" y="392" width="1" height="32" fill="#801922"/>
<rect x="1302" y="393" width="5" height="28" fill="#801922"/>
<rect x="1310" y="404" width="1" height="28" fill="#056656"/>
<rect x="1308" y="410" width="5" height="11" fill="#000"/>
<rect x="1309" y="411" width="3" height="9" fill="#056656"/>
<rect x="1316" y="381" width="1" height="34" fill="#056656"/>
<rect x="1314" y="396" width="5" height="16" fill="#000"/>
<rect x="1315" y="397" width="3" height="14" fill="#056656"/>
<rect x="1322" y="356" width="1" height="41" fill="#056656"/>
<rect x="1320" y="376" width="5" height="21" fill="#000"/>
<rect x="1321" y="377" width="3" height="19" fill="#056656"/>
<rect x="1328" y="368" width="1" height="21" fill="#056656"/>
<rect x="1326" y="375" width="5" height="2" fill="#000"/>
<rect x="1333" y="341" width="1" height="37" fill="#056656"/>
<rect x="1331" y="345" width="5" height="33" fill="#000"/>
<rect x="1332" y="346" width="3" height="31" fill="#056656"/>
<rect x="1339" y="327" width="1" height="27" fill="#056656"/>
<rect x="1337" y="342" width="5" height="4" fill="#000"/>
<rect x="1338" y="343" width="3" height="2" fill="#056656"/>
<rect x="1345" y="309" width="1" height="37" fill="#056656"/>
<rect x="1343" y="332" width="5" height="11" fill="#000"/>
<rect x="1344" y="333" width="3" height="9" fill="#056656"/>
<rect x="1351" y="330" width="1" height="20" fill="#801922"/>
<rect x="1349" y="332" width="5" height="12" fill="#801922"/>
<rect x="1357" y="339" width="1" height="21" fill="#801922"/>
<rect x="1355" y="343" width="5" height="10" fill="#801922"/>
<rect x="1363" y="337" width="1" height="21" fill="#056656"/>
<rect x="1361" y="340" width="5" height="13" fill="#000"/>
<rect x="1362" y="341" width="3" height="11" fill="#056656"/>
<rect x="1369" y="316" width="1" height="36" fill="#801922"/>
<rect x="1367" y="340" width="5" height="7" fill="#801922"/>
<rect x="1375" y="320" width="1" height="32" fill="#056656"/>
<rect x="1373" y="324" width="5" height="23" fill="#000"/>
<rect x="1374" y="325" width="3" height="21" fill="#056656"/>
<rect x="1381" y="310" width="1" height="21" fill="#056656"/>
<rect x="1379" y="314" width="5" height="12" fill="#000"/>
<rect x="1380" y="315" width="3" height="10" fill="#056656"/>
<rect x="1387" y="298" width="1" height="20" fill="#056656"/>
<rect x="1385" y="303" width="5" height="12" fill="#000"/>
<rect x="1386" y="304" width="3" height="10" fill="#056656"/>
<rect x="1393" y="235" width="1" height="141" fill="#801922"/>
<rect x="1391" y="303" width="5" height="19" fill="#801922"/>
<rect x="1399" y="275" width="1" height="70" fill="#056656"/>
<rect x="1397" y="308" width="5" height="13" fill="#000"/>
<rect x="1398" y="309" width="3" height="11" fill="#056656"/>
<rect x="1405" y="282" width="1" height="53" fill="#056656"/>
<rect x="1403" y="305" width="5" height="4" fill="#000"/>
<rect x="1404" y="306" width="3" height="2" fill="#056656"/>
<rect x="1411" y="249" width="1" height="58" fill="#056656"/>
<rect x="1409" y="255" width="5" height="52" fill="#000"/>
<rect x="1410" y="256" width="3" height="50" fill="#056656"/>
<rect x="1416" y="239" width="1" height="46" fill="#801922"/>
<rect x="1414" y="256" width="5" height="17" fill="#801922"/>
<rect x="1422" y="250" width="1" height="26" fill="#056656"/>
<rect x="1420" y="257" width="5" height="16" fill="#000"/>
<rect x="1421" y="258" width="3" height="14" fill="#056656"/>
<rect x="1428" y="218" width="1" height="51" fill="#056656"/>
<rect x="1426" y="244" width="5" height="13" fill="#000"/>
<rect x="1427" y="245" width="3" height="11" fill="#056656"/>
<rect x="1434" y="205" width="1" height="52" fill="#056656"/>
<rect x="1432" y="212" width="5" height="33" fill="#000"/>
<rect x="1433" y="213" width="3" height="31" fill="#056656"/>
<rect x="1440" y="171" width="1" height="64" fill="#056656"/>
<rect x="1438" y="182" width="5" height="32" fill="#000"/>
<rect x="1439" y="183" width="3" height="30" fill="#056656"/>
<rect x="1446" y="147" width="1" height="46" fill="#801922"/>
<rect x="1444" y="181" width="5" height="1" fill="#801922"/>
<rect x="1452" y="157" width="1" height="41" fill="#056656"/>
<rect x="1450" y="169" width="5" height="13" fill="#000"/>
<rect x="1451" y="170" width="3" height="11" fill="#056656"/>
<rect x="1458" y="118" width="1" height="55" fill="#056656"/>
<rect x="1456" y="164" width="5" height="6" fill="#000"/>
<rect x="1457" y="165" width="3" height="4" fill="#056656"/>
<rect x="1464" y="135" width="1" height="33" fill="#056656"/>
<rect x="1462" y="140" width="5" height="24" fill="#000"/>
<rect x="1463" y="141" width="3" height="22" fill="#056656"/>
<rect x="1470" y="132" width="1" height="30" fill="#801922"/>
<rect x="1468" y="140" width="5" height="16" fill="#801922"/>
<rect x="1476" y="144" width="1" height="39" fill="#801922"/>
<rect x="1474" y="155" width="5" height="24" fill="#801922"/>
<rect x="1482" y="175" width="1" height="27" fill="#801922"/>
<rect x="1480" y="177" width="5" height="10" fill="#801922"/>
<rect x="1488" y="144" width="1" height="48" fill="#056656"/>
<rect x="1486" y="161" width="5" height="26" fill="#000"/>
<rect x="1487" y="162" width="3" height="24" fill="#056656"/>
<rect x="1494" y="161" width="1" height="28" fill="#801922"/>
<rect x="1492" y="161" width="5" height="20" fill="#801922"/>
<rect x="1500" y="172" width="1" height="25" fill="#801922"/>
<rect x="1498" y="180" width="5" height="8" fill="#801922"/>
<rect x="1505" y="156" width="1" height="33" fill="#056656"/>
<rect x="1503" y="168" width="5" height="20" fill="#000"/>
<rect x="1504" y="169" width="3" height="18" fill="#056656"/>
<rect x="1511" y="163" width="1" height="22" fill="#801922"/>
<rect x="1509" y="168" width="5" height="15" fill="#801922"/>
<rect x="1517" y="174" width="1" height="21" fill="#801922"/>
<rect x="1515" y="182" width="5" height="2" fill="#801922"/>
<rect x="1523" y="176" width="1" height="26" fill="#801922"/>
<rect x="1521" y="184" width="5" height="14" fill="#801922"/>
<rect x="1529" y="180" width="1" height="40" fill="#801922"/>
<rect x="1527" y="197" width="5" height="8" fill="#801922"/>
<rect x="1535" y="181" width="1" height="61" fill="#801922"/>
<rect x="1533" y="204" width="5" height="32" fill="#801922"/>
<rect x="1541" y="134" width="1" height="104" fill="#056656"/>
<rect x="1539" y="157" width="5" height="81" fill="#000"/>
<rect x="1540" y="158" width="3" height="79" fill="#056656"/>
<rect x="1547" y="137" width="1" height="77" fill="#801922"/>
<rect x="1545" y="157" width="5" height="49" fill="#801922"/>
<rect x="1553" y="198" width="1" height="49" fill="#801922"/>
<rect x="1551" y="206" width="5" height="11" fill="#801922"/>
<rect x="1559" y="209" width="1" height="39" fill="#801922"/>
<rect x="1557" y="215" width="5" height="26" fill="#801922"/>
<rect x="1565" y="237" width="1" height="137" fill="#801922"/>
<rect x="1563" y="240" width="5" height="28" fill="#801922"/>
<rect x="1571" y="233" width="1" height="52" fill="#056656"/>
<rect x="1569" y="239" width="5" height="29" fill="#000"/>
<rect x="1570" y="240" width="3" height="27" fill="#056656"/>
<rect x="1577" y="226" width="1" height="41" fill="#801922"/>
<rect x="1575" y="239" width="5" height="24" fill="#801922"/>
<rect x="1583" y="231" width="1" height="32" fill="#056656"/>
<rect x="1581" y="237" width="5" height="26" fill="#000"/>
<rect x="1582" y="238" width="3" height="24" fill="#056656"/>
<rect x="1589" y="236" width="1" height="18" fill="#801922"/>
<rect x="1587" y="237" width="5" height="14" fill="#801922"/>
<rect x="1594" y="221" width="1" height="30" fill="#056656"/>
<rect x="1592" y="234" width="5" height="17" fill="#000"/>
<rect x="1593" y="235" width="3" height="15" fill="#056656"/>
<rect x="1600" y="203" width="1" height="34" fill="#056656"/>
<rect x="1598" y="212" width="5" height="23" fill="#000"/>
<rect x="1599" y="213" width="3" height="21" fill="#056656"/>
<rect x="1606" y="180" width="1" height="42" fill="#056656"/>
<rect x="1604" y="187" width="5" height="27" fill="#000"/>
<rect x="1605" y="188" width="3" height="25" fill="#056656"/>
<rect x="1612" y="176" width="1" height="32" fill="#801922"/>
<rect x="1610" y="187" width="5" height="16" fill="#801922"/>
<rect x="1618" y="189" width="1" height="38" fill="#801922"/>
<rect x="1616" y="203" width="5" height="5" fill="#801922"/>
<rect x="1624" y="199" width="1" height="27" fill="#801922"/>
<rect x="1622" y="207" width="5" height="16" fill="#801922"/>
<rect x="1630" y="194" width="1" height="29" fill="#056656"/>
<rect x="1628" y="205" width="5" height="18" fill="#000"/>
<rect x="1629" y="206" width="3" height="16" fill="#056656"/>
<rect x="1636" y="188" width="1" height="20" fill="#056656"/>
<rect x="1634" y="200" width="5" height="6" fill="#000"/>
<rect x="1635" y="201" width="3" height="4" fill="#056656"/>
<rect x="1642" y="200" width="1" height="34" fill="#801922"/>
<rect x="1640" y="200" width="5" height="24" fill="#801922"/>
<rect x="1648" y="222" width="1" height="61" fill="#801922"/>
<rect x="1646" y="223" width="5" height="41" fill="#801922"/>
<rect x="1654" y="232" width="1" height="33" fill="#056656"/>
<rect x="1652" y="248" width="5" height="17" fill="#000"/>
<rect x="1653" y="249" width="3" height="15" fill="#056656"/>
<rect x="1660" y="237" width="1" height="40" fill="#801922"/>
<rect x="1658" y="248" width="5" height="5" fill="#801922"/>
<rect x="1666" y="247" width="1" height="21" fill="#801922"/>
<rect x="1664" y="252" width="5" height="5" fill="#801922"/>
<rect x="1672" y="244" width="1" height="61" fill="#801922"/>
<rect x="1670" y="256" width="5" height="38" fill="#801922"/>
<rect x="1678" y="272" width="1" height="38" fill="#056656"/>
<rect x="1676" y="287" width="5" height="7" fill="#000"/>
<rect x="1677" y="288" width="3" height="5" fill="#056656"/>
<rect x="1683" y="220" width="1" height="78" fill="#056656"/>
<rect x="1681" y="283" width="5" height="5" fill="#000"/>
<rect x="1682" y="284" width="3" height="3" fill="#056656"/>
<rect x="1689" y="281" width="1" height="135" fill="#801922"/>
<rect x="1687" y="283" width="5" height="93" fill="#801922"/>
<rect x="1695" y="366" width="1" height="42" fill="#056656"/>
<rect x="1693" y="373" width="5" height="2" fill="#000"/>
<rect x="1701" y="336" width="1" height="74" fill="#801922"/>
<rect x="1699" y="374" width="5" height="32" fill="#801922"/>
<rect x="1707" y="357" width="1" height="90" fill="#056656"/>
<rect x="1705" y="368" width="5" height="38" fill="#000"/>
<rect x="1706" y="369" width="3" height="36" fill="#056656"/>
<rect x="1713" y="354" width="1" height="41" fill="#801922"/>
<rect x="1711" y="368" width="5" height="20" fill="#801922"/>
<rect x="1719" y="369" width="1" height="29" fill="#801922"/>
<rect x="1717" y="387" width="5" height="5" fill="#801922"/>
<rect x="1725" y="375" width="1" height="27" fill="#056656"/>
<rect x="1723" y="382" width="5" height="9" fill="#000"/>
<rect x="1724" y="383" width="3" height="7" fill="#056656"/>
<rect x="1731" y="381" width="1" height="25" fill="#801922"/>
<rect x="1729" y="382" width="5" height="7" fill="#801922"/>
<rect x="1737" y="379" width="1" height="20" fill="#056656"/>
<rect x="1735" y="383" width="5" height="6" fill="#000"/>
<rect x="1736" y="384" width="3" height="4" fill="#056656"/>
<rect x="1743" y="374" width="1" height="17" fill="#056656"/>
<rect x="1741" y="382" width="5" height="1" fill="#000"/>
<rect x="1749" y="382" width="1" height="10" fill="#801922"/>
<rect x="1747" y="382" width="5" height="5" fill="#801922"/>
<line x1="7" y1="386.5" x2="1890" y2="386.5" stroke="#801922" stroke-width="1" stroke-dasharray="1 2"/>
<text x="1899.1" y="108.8" font-size="12" fill="#131722" font-weight="normal" font-family="'Liberation Sans', sans-serif" text-anchor="start" textLength="40.2" lengthAdjust="spacingAndGlyphs">3,250.0</text>
<text x="1899.1" y="139.8125" font-size="12" fill="#131722" font-weight="normal" font-family="'Liberation Sans', sans-serif" text-anchor="start" textLength="40.2" lengthAdjust="spacingAndGlyphs">3,225.0</text>
<text x="1899.1" y="170.825" font-size="12" fill="#131722" font-weight="normal" font-family="'Liberation Sans', sans-serif" text-anchor="start" textLength="40.2" lengthAdjust="spacingAndGlyphs">3,200.0</text>
<text x="1899.1" y="201.8375" font-size="12" fill="#131722" font-weight="normal" font-family="'Liberation Sans', sans-serif" text-anchor="start" textLength="40.2" lengthAdjust="spacingAndGlyphs">3,175.0</text>
<text x="1899.1" y="232.85" font-size="12" fill="#131722" font-weight="normal" font-family="'Liberation Sans', sans-serif" text-anchor="start" textLength="40.2" lengthAdjust="spacingAndGlyphs">3,150.0</text>
<text x="1899.1" y="263.8625" font-size="12" fill="#131722" font-weight="normal" font-family="'Liberation Sans', sans-serif" text-anchor="start" textLength="40.2" lengthAdjust="spacingAndGlyphs">3,125.0</text>
<text x="1899.1" y="325.8875" font-size="12" fill="#131722" font-weight="normal" font-family="'Liberation Sans', sans-serif" text-anchor="start" textLength="40.2" lengthAdjust="spacingAndGlyphs">3,075.0</text>
<text x="1899.1" y="356.90000000000003" font-size="12" fill="#131722" font-weight="normal" font-family="'Liberation Sans', sans-serif" text-anchor="start" textLength="40.2" lengthAdjust="spacingAndGlyphs">3,050.0</text>
<text x="1899.1" y="418.925" font-size="12" fill="#131722" font-weight="normal" font-family="'Liberation Sans', sans-serif" text-anchor="start" textLength="40.2" lengthAdjust="spacingAndGlyphs">3,000.0</text>
<text x="1899.1" y="449.9375" font-size="12" fill="#131722" font-weight="normal" font-family="'Liberation Sans', sans-serif" text-anchor="start" textLength="40.2" lengthAdjust="spacingAndGlyphs">2,975.0</text>
<text x="1899.1" y="480.95" font-size="12" fill="#131722" font-weight="normal" font-family="'Liberation Sans', sans-serif" text-anchor="start" textLength="40.2" lengthAdjust="spacingAndGlyphs">2,950.0</text>
<text x="1899.1" y="511.9625" font-size="12" fill="#131722" font-weight="normal" font-family="'Liberation Sans', sans-serif" text-anchor="start" textLength="40.2" lengthAdjust="spacingAndGlyphs">2,925.0</text>
<text x="1899.1" y="542.975" font-size="12" fill="#131722" font-weight="normal" font-family="'Liberation Sans', sans-serif" text-anchor="start" textLength="40.2" lengthAdjust="spacingAndGlyphs">2,900.0</text>
<text x="1899.1" y="573.9875000000001" font-size="12" fill="#131722" font-weight="normal" font-family="'Liberation Sans', sans-serif" text-anchor="start" textLength="40.2" lengthAdjust="spacingAndGlyphs">2,875.0</text>
<text x="1899.1" y="605.0" font-size="12" fill="#131722" font-weight="normal" font-family="'Liberation Sans', sans-serif" text-anchor="start" textLength="40.2" lengthAdjust="spacingAndGlyphs">2,850.0</text>
<text x="1899.1" y="636.0125" font-size="12" fill="#131722" font-weight="normal" font-family="'Liberation Sans', sans-serif" text-anchor="start" textLength="40.2" lengthAdjust="spacingAndGlyphs">2,825.0</text>
<text x="1899.1" y="667.0250000000001" font-size="12" fill="#131722" font-weight="normal" font-family="'Liberation Sans', sans-serif" text-anchor="start" textLength="40.2" lengthAdjust="spacingAndGlyphs">2,800.0</text>
<text x="1899.1" y="698.0375" font-size="12" fill="#131722" font-weight="normal" font-family="'Liberation Sans', sans-serif" text-anchor="start" textLength="40.2" lengthAdjust="spacingAndGlyphs">2,775.0</text>
<text x="1899.1" y="729.0500000000001" font-size="12" fill="#131722" font-weight="normal" font-family="'Liberation Sans', sans-serif" text-anchor="start" textLength="40.2" lengthAdjust="spacingAndGlyphs">2,750.0</text>
<text x="1899.1" y="760.0625" font-size="12" fill="#131722" font-weight="normal" font-family="'Liberation Sans', sans-serif" text-anchor="start" textLength="40.2" lengthAdjust="spacingAndGlyphs">2,725.0</text>
<text x="1899.1" y="791.075" font-size="12" fill="#131722" font-weight="normal" font-family="'Liberation Sans', sans-serif" text-anchor="start" textLength="40.2" lengthAdjust="spacingAndGlyphs">2,700.0</text>
<path d="M1907.4 78.5 l-1 2.2" stroke="#131722" stroke-width="1"/>
<path d="M1891 115 H1943 Q1945 115 1945 117 V130 Q1945 132 1943 132 H1891 Z" fill="#0c0c0c"/>
<text x="1899.1" y="126.7" font-size="12" fill="#ffffff" font-weight="bold" font-family="'Liberation Sans', sans-serif" text-anchor="start" textLength="40.2" lengthAdjust="spacingAndGlyphs">3,236.2</text>
<path d="M1891 286 H1943 Q1945 286 1945 288 V301 Q1945 303 1943 303 H1891 Z" fill="#0c0c0c"/>
<text x="1899.1" y="297.7" font-size="12" fill="#ffffff" font-weight="bold" font-family="'Liberation Sans', sans-serif" text-anchor="start" textLength="40.2" lengthAdjust="spacingAndGlyphs">3,098.1</text>
<path d="M1891 432 H1943 Q1945 432 1945 434 V447 Q1945 449 1943 449 H1891 Z" fill="#0c0c0c"/>
<text x="1899.1" y="443.7" font-size="12" fill="#ffffff" font-weight="bold" font-family="'Liberation Sans', sans-serif" text-anchor="start" textLength="40.2" lengthAdjust="spacingAndGlyphs">2,980.3</text>
<path d="M1891 752 H1943 Q1945 752 1945 754 V767 Q1945 769 1943 769 H1891 Z" fill="#0c0c0c"/>
<text x="1899.1" y="763.7" font-size="12" fill="#ffffff" font-weight="bold" font-family="'Liberation Sans', sans-serif" text-anchor="start" textLength="40.2" lengthAdjust="spacingAndGlyphs">2,721.9</text>
<path d="M1891 378 H1943 Q1945 378 1945 380 V407 Q1945 409 1943 409 H1891 Z" fill="#801922"/>
<text x="1898.9" y="389.9" font-size="12" fill="#ffffff" font-weight="bold" font-family="'Liberation Sans', sans-serif" text-anchor="start" textLength="40.4" lengthAdjust="spacingAndGlyphs">3,024.0</text>
<text x="1898.9" y="403.5" font-size="12" fill="#ecd5da" font-weight="bold" font-family="'Liberation Sans', sans-serif" text-anchor="start" textLength="29.3" lengthAdjust="spacingAndGlyphs">49:55</text>
<rect x="1894" y="48" width="52" height="26" rx="4.5" fill="#ffffff"/>
<text x="1903.1" y="65.8" font-size="12" fill="#131722" font-weight="normal" font-family="'Liberation Sans', sans-serif" text-anchor="start" textLength="20.5" lengthAdjust="spacingAndGlyphs">USD</text>
<text x="28.5" y="833.9" font-size="12" fill="#131722" font-weight="normal" font-family="'Liberation Sans', sans-serif" text-anchor="middle">24</text>
<text x="100.5" y="833.9" font-size="12" fill="#131722" font-weight="normal" font-family="'Liberation Sans', sans-serif" text-anchor="middle">12:00</text>
<text x="171.5" y="833.9" font-size="12" fill="#131722" font-weight="normal" font-family="'Liberation Sans', sans-serif" text-anchor="middle">25</text>
<text x="242.5" y="833.9" font-size="12" fill="#131722" font-weight="normal" font-family="'Liberation Sans', sans-serif" text-anchor="middle">12:00</text>
<text x="313.5" y="833.9" font-size="12" fill="#131722" font-weight="normal" font-family="'Liberation Sans', sans-serif" text-anchor="middle">26</text>
<text x="384.5" y="833.9" font-size="12" fill="#131722" font-weight="normal" font-family="'Liberation Sans', sans-serif" text-anchor="middle">12:00</text>
<text x="455.5" y="833.9" font-size="12" fill="#131722" font-weight="normal" font-family="'Liberation Sans', sans-serif" text-anchor="middle">27</text>
<text x="527.5" y="833.9" font-size="12" fill="#131722" font-weight="normal" font-family="'Liberation Sans', sans-serif" text-anchor="middle">12:00</text>
<text x="598.5" y="833.9" font-size="12" fill="#131722" font-weight="normal" font-family="'Liberation Sans', sans-serif" text-anchor="middle">28</text>
<text x="669.5" y="833.9" font-size="12" fill="#131722" font-weight="normal" font-family="'Liberation Sans', sans-serif" text-anchor="middle">12:00</text>
<text x="740.5" y="833.9" font-size="12" fill="#131722" font-weight="normal" font-family="'Liberation Sans', sans-serif" text-anchor="middle">29</text>
<text x="811.5" y="833.9" font-size="12" fill="#131722" font-weight="normal" font-family="'Liberation Sans', sans-serif" text-anchor="middle">12:00</text>
<text x="883.5" y="833.9" font-size="12" fill="#131722" font-weight="normal" font-family="'Liberation Sans', sans-serif" text-anchor="middle">30</text>
<text x="954.5" y="833.9" font-size="12" fill="#131722" font-weight="normal" font-family="'Liberation Sans', sans-serif" text-anchor="middle">12:00</text>
<text x="1025.5" y="833.9" font-size="12" fill="#131722" font-weight="bold" font-family="'Liberation Sans', sans-serif" text-anchor="middle">Dec</text>
<text x="1096.5" y="833.9" font-size="12" fill="#131722" font-weight="normal" font-family="'Liberation Sans', sans-serif" text-anchor="middle">12:00</text>
<text x="1167.5" y="833.9" font-size="12" fill="#131722" font-weight="normal" font-family="'Liberation Sans', sans-serif" text-anchor="middle">2</text>
<text x="1239.5" y="833.9" font-size="12" fill="#131722" font-weight="normal" font-family="'Liberation Sans', sans-serif" text-anchor="middle">12:00</text>
<text x="1310.5" y="833.9" font-size="12" fill="#131722" font-weight="normal" font-family="'Liberation Sans', sans-serif" text-anchor="middle">3</text>
<text x="1381.5" y="833.9" font-size="12" fill="#131722" font-weight="normal" font-family="'Liberation Sans', sans-serif" text-anchor="middle">12:00</text>
<text x="1452.5" y="833.9" font-size="12" fill="#131722" font-weight="normal" font-family="'Liberation Sans', sans-serif" text-anchor="middle">4</text>
<text x="1523.5" y="833.9" font-size="12" fill="#131722" font-weight="normal" font-family="'Liberation Sans', sans-serif" text-anchor="middle">12:00</text>
<text x="1594.5" y="833.9" font-size="12" fill="#131722" font-weight="normal" font-family="'Liberation Sans', sans-serif" text-anchor="middle">5</text>
<text x="1666.5" y="833.9" font-size="12" fill="#131722" font-weight="normal" font-family="'Liberation Sans', sans-serif" text-anchor="middle">12:00</text>
<text x="1737.5" y="833.9" font-size="12" fill="#131722" font-weight="normal" font-family="'Liberation Sans', sans-serif" text-anchor="middle">6</text>
<text x="1808.5" y="833.9" font-size="12" fill="#131722" font-weight="normal" font-family="'Liberation Sans', sans-serif" text-anchor="middle">12:00</text>
<text x="1879.5" y="833.9" font-size="12" fill="#131722" font-weight="normal" font-family="'Liberation Sans', sans-serif" text-anchor="middle">7</text>
<circle cx="1749.7" cy="803.4" r="11.3" fill="#ffffff"/>
<circle cx="1749.7" cy="803.4" r="9.7" fill="#ffffff" stroke="#9c1ab0" stroke-width="1.6"/>
<path transform="translate(1749.7 803.4)" d="M3.3 -5.6 L-4.6 0.5 L-0.5 0.6 L-3.7 5.8 L4.4 -0.3 L0.3 -0.5 Z" fill="#9c1ab0"/>
<path transform="translate(1738.9 806.85)" d="M0 -4.9 Q1.3 -1.3 4.9 0 Q1.3 1.3 0 4.9 Q-1.3 1.3 -4.9 0 Q-1.3 -1.3 0 -4.9 Z" fill="#ffffff" stroke="#ffffff" stroke-width="3" stroke-linejoin="round"/>
<path transform="translate(1738.9 806.85)" d="M0 -4.9 Q1.3 -1.3 4.9 0 Q1.3 1.3 0 4.9 Q-1.3 1.3 -4.9 0 Q-1.3 -1.3 0 -4.9 Z" fill="#7448ff"/>
<path d="M6.1 856.5 H15 V867.5 H10.4 V860.7 H6.1 Z" fill="#d1d4dc"/>
<circle cx="18.95" cy="858.55" r="2.1" fill="#d1d4dc"/>
<path d="M22.9 856.5 H28.6 L24.7 867.5 H19 Z" fill="#d1d4dc"/>
<text x="33.3" y="867.3" font-size="15.6" fill="#d1d4dc" font-weight="bold" font-family="'Liberation Sans', sans-serif" text-anchor="start" textLength="91.5" lengthAdjust="spacingAndGlyphs">TradingView</text></svg>
</body></html>
